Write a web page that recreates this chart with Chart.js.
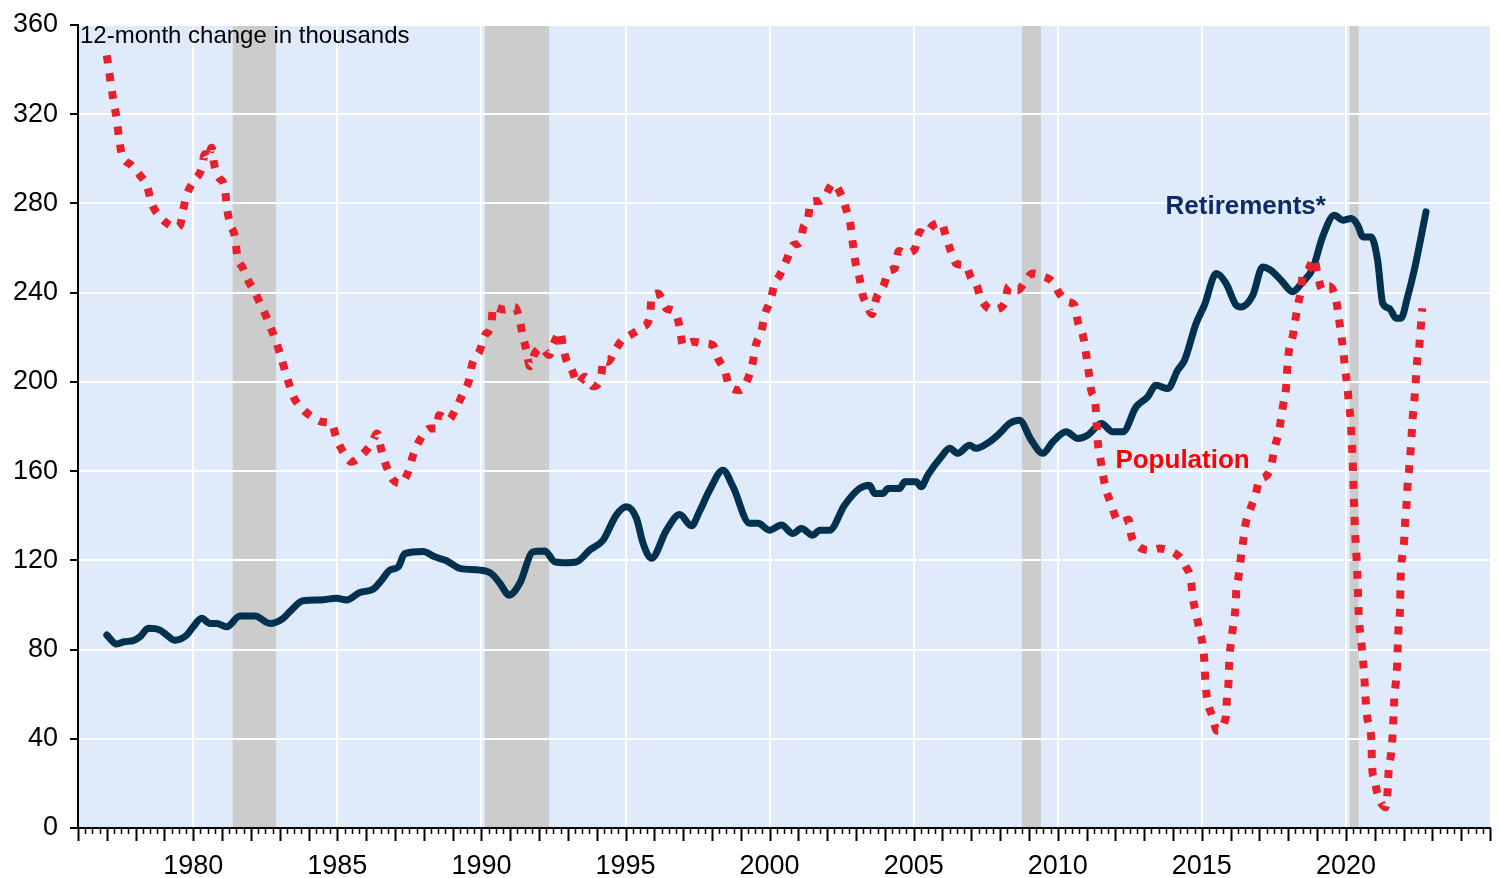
<!DOCTYPE html>
<html>
<head>
<meta charset="utf-8">
<script src="https://cdn.jsdelivr.net/npm/chart.js@4.4.1/dist/chart.umd.min.js"></script>
<style>
  html, body { margin: 0; padding: 0; background: #fff; }
  #myChart { display: block; }
</style>
</head>
<body>
<canvas id="myChart" width="1499" height="878"></canvas>
<script>
// Retirements* - 12-month change in thousands
const retireYears = [
  1977.0, 1977.34, 1977.6, 1977.92, 1978.15, 1978.44, 1978.84, 1979.08, 1979.36, 1979.77,
  1980.0, 1980.29, 1980.58, 1980.81, 1981.16, 1981.62, 1982.14, 1982.66, 1983.12, 1983.35,
  1983.81, 1984.4, 1984.97, 1985.32, 1985.78, 1986.24, 1986.53, 1986.82, 1987.11, 1987.34,
  1987.98, 1988.38, 1988.79, 1989.25, 1989.94, 1990.35, 1990.64, 1990.96, 1991.33, 1991.79,
  1992.2, 1992.55, 1992.95, 1993.3, 1993.76, 1994.22, 1994.68, 1995.03, 1995.38, 1995.61,
  1995.9, 1996.42, 1996.88, 1997.29, 1997.57, 1997.92, 1998.38, 1998.73, 1999.31, 1999.6,
  2000.0, 2000.41, 2000.81, 2001.1, 2001.5, 2001.74, 2002.08, 2002.6, 2003.12, 2003.47,
  2003.64, 2003.93, 2004.11, 2004.51, 2004.69, 2005.09, 2005.26, 2005.49, 2005.96, 2006.25,
  2006.53, 2006.94, 2007.17, 2007.63, 2007.98, 2008.33, 2008.67, 2009.08, 2009.48, 2009.83,
  2010.29, 2010.7, 2011.04, 2011.39, 2011.51, 2011.91, 2012.26, 2012.72, 2013.12, 2013.41,
  2013.82, 2014.16, 2014.4, 2014.8, 2015.09, 2015.5, 2015.84, 2016.19, 2016.36, 2016.77,
  2017.11, 2017.4, 2017.75, 2018.15, 2018.5, 2018.85, 2019.19, 2019.6, 2019.89, 2020.18,
  2020.41, 2020.59, 2020.87, 2021.1, 2021.28, 2021.51, 2021.74, 2021.91, 2022.14, 2022.37,
  2022.78
];
const retireValues = [
  86.5, 82.5, 83.5, 84, 85.7, 89.5, 88.7, 86.5, 84.2, 86.5,
  90.2, 94, 91.7, 91.7, 90.2, 95, 95, 91.7, 94, 97,
  101.9, 102.2, 103, 102.2, 105.6, 107, 111, 115.6, 117, 123,
  124, 121.6, 119.8, 116.4, 115.6, 114, 109.7, 104.4, 109.7, 123.8,
  124.2, 119.3, 118.9, 119.3, 124.6, 129, 140.3, 144, 138.8, 127.6,
  120.9, 133.5, 140.5, 135.5, 142, 151.5, 160.4, 153, 136.6, 136.6,
  133.5, 135.8, 132, 134.3, 131.3, 133.5, 133.5, 144.7, 152.2, 153.7,
  150, 150, 152.2, 152.2, 155.2, 155.2, 153, 158.2, 166.4, 170.2,
  168, 171.6, 170.2, 173.1, 176.9, 181.4, 182.8, 173.9, 168, 173.1,
  177.6, 174.6, 176.1, 180.5, 181.4, 177.6, 177.6, 188.8, 193.3, 198.5,
  197, 205.2, 209.7, 226.2, 234.4, 248.6, 244.2, 234.4, 233.6, 238.9,
  251.5, 250, 245.6, 240.4, 244.8, 250.8, 265, 274.7, 272.5, 273.2,
  270.2, 265, 265, 254.5, 235.1, 232.9, 228.5, 228.5, 238.1, 250,
  276.2
];

// Population - 12-month change in thousands
const popYears = [
  1977.0, 1977.09, 1977.17, 1977.25, 1977.34, 1977.42, 1977.52, 1977.83, 1978.15, 1978.4,
  1978.55, 1978.82, 1979.19, 1979.4, 1979.54, 1979.65, 1979.79, 1980.02, 1980.29, 1980.4,
  1980.5, 1980.64, 1980.72, 1980.87, 1981.1, 1981.16, 1981.27, 1981.45, 1981.53, 1981.71,
  1981.9, 1982.1, 1982.4, 1982.7, 1983.0, 1983.3, 1983.49, 1983.78, 1984.16, 1984.51,
  1984.8, 1984.97, 1985.2, 1985.49, 1985.78, 1986.19, 1986.38, 1986.53, 1986.71, 1986.94,
  1987.2, 1987.46, 1987.63, 1987.86, 1988.21, 1988.44, 1988.53, 1988.84, 1989.14, 1989.36,
  1989.57, 1989.68, 1989.94, 1990.12, 1990.35, 1990.4, 1990.78, 1991.16, 1991.33, 1991.43,
  1991.56, 1991.68, 1991.85, 1992.08, 1992.35, 1992.51, 1992.74, 1992.83, 1992.95, 1993.12,
  1993.35, 1993.59, 1993.87, 1994.16, 1994.22, 1994.39, 1994.63, 1994.89, 1995.15, 1995.61,
  1995.86, 1995.9, 1996.13, 1996.42, 1996.71, 1996.88, 1996.99, 1997.34, 1997.75, 1998.03,
  1998.21, 1998.44, 1998.61, 1998.96, 1999.25, 1999.42, 1999.52, 1999.71, 1999.83, 2000.03,
  2000.18, 2000.35, 2000.6, 2000.81, 2001.04, 2001.18, 2001.33, 2001.42, 2001.74, 2001.91,
  2002.2, 2002.49, 2002.66, 2002.81, 2002.89, 2002.99, 2003.12, 2003.22, 2003.39, 2003.55,
  2003.72, 2003.96, 2004.14, 2004.34, 2004.48, 2004.69, 2005.03, 2005.21, 2005.38, 2005.67,
  2005.96, 2006.13, 2006.3, 2006.48, 2006.82, 2007.0, 2007.17, 2007.35, 2007.75, 2008.15,
  2008.3, 2008.61, 2008.9, 2009.11, 2009.48, 2009.83, 2010.06, 2010.35, 2010.58, 2010.7,
  2010.89, 2010.99, 2011.08, 2011.16, 2011.31, 2011.35, 2011.39, 2011.47, 2011.56, 2011.68,
  2011.85, 2012.05, 2012.26, 2012.46, 2012.55, 2012.84, 2013.24, 2013.53, 2013.82, 2014.22,
  2014.45, 2014.63, 2014.68, 2014.8, 2014.92, 2015.03, 2015.09, 2015.12, 2015.18, 2015.35,
  2015.53, 2015.84, 2015.87, 2015.93, 2015.95, 2016.01, 2016.09, 2016.16, 2016.19, 2016.28,
  2016.36, 2016.44, 2016.51, 2016.67, 2016.86, 2017.0, 2017.17, 2017.4, 2017.52, 2017.66,
  2017.75, 2017.83, 2017.92, 2017.96, 2018.01, 2018.15, 2018.32, 2018.44, 2018.5, 2018.67,
  2018.9, 2019.02, 2019.19, 2019.42, 2019.65, 2019.75, 2019.83, 2019.91, 2019.97, 2020.05,
  2020.11, 2020.17, 2020.2, 2020.23, 2020.25, 2020.27, 2020.29, 2020.31, 2020.35, 2020.38,
  2020.41, 2020.43, 2020.46, 2020.52, 2020.58, 2020.63, 2020.67, 2020.71, 2020.81, 2020.89,
  2020.9, 2020.98, 2021.09, 2021.37, 2021.45, 2021.48, 2021.57, 2021.62, 2021.65, 2021.68,
  2021.74, 2021.78, 2021.8, 2021.83, 2021.88, 2021.89, 2021.91, 2021.97, 2022.03, 2022.06,
  2022.11, 2022.14, 2022.2, 2022.25, 2022.29, 2022.33, 2022.39, 2022.47, 2022.55, 2022.6,
  2022.65
];
const popValues = [
  346.4, 338.2, 331, 325, 318, 309.8, 302, 297.4, 292.6, 287.7,
  280.2, 274.4, 270.2, 269.2, 270.2, 277.2, 284.4, 290, 295.6, 302,
  300, 305, 298, 292, 286.6, 278.9, 271.3, 264.7, 256.3, 251.3,
  245.6, 241, 233, 224, 213, 200, 193, 188, 184, 182,
  181.4, 174.6, 168.6, 164.2, 166.4, 172.4, 176.9, 169.4, 161.9, 156,
  154.5, 159.7, 167.2, 173.9, 179.1, 179.1, 185, 182.8, 188.8, 194.8,
  200.8, 208, 213.9, 220.9, 226.2, 233.6, 232.4, 233.6, 227.7, 220.9,
  214.2, 207, 212.7, 215.4, 212, 217.2, 222.4, 216, 209.7, 206,
  199.3, 202.3, 198, 203, 209.7, 209, 213.9, 219, 220.9, 224.7,
  230.4, 238.1, 239.6, 232.9, 231.4, 224.5, 216.5, 218, 217.2, 216.5,
  210.5, 205.2, 198, 196.3, 201.5, 209, 216.5, 222.4, 229.9, 236.6,
  244.1, 247.8, 254.9, 261.3, 262.3, 269.5, 272.8, 280.7, 281.1, 282.9,
  288.9, 283.7, 277.3, 270.2, 262, 253, 246.7, 239.6, 234, 230.4,
  238.1, 243.3, 249.8, 250.8, 258.7, 257.8, 259.3, 267.2, 266.2, 270.2,
  271.4, 264.6, 258.3, 253, 251.9, 246.3, 243.8, 236.9, 232.4, 235.1,
  242.9, 241.1, 245.6, 248.6, 247.4, 244.8, 239.6, 235.9, 234.4, 226.9,
  219.9, 212, 203.8, 196.3, 189.6, 181.4, 173.1, 166.4, 159, 151.5,
  145.5, 138.3, 137.3, 138.3, 131.3, 125.8, 124.6, 125.3, 124.6, 121.6,
  117.1, 110.4, 103.7, 96.2, 88.7, 82, 74.5, 66.3, 58.1, 50.6,
  43.6, 50.2, 58.1, 66.3, 74.5, 82.8, 91, 97.7, 105.2, 113.4,
  121.6, 129.1, 135.8, 142.5, 149.2, 156, 157.2, 161.9, 170.2, 176.9,
  183.6, 190.3, 197, 205.2, 212.7, 220.2, 233.6, 241.1, 247.8, 250,
  255.3, 247.8, 241.1, 242.9, 237.3, 229.1, 221.7, 213.5, 206, 197.8,
  189.6, 182.1, 174, 166.4, 158.2, 150, 142, 134.3, 126.1, 117.9,
  109.5, 100.7, 92.4, 85, 77.1, 69.3, 61.1, 52.9, 45.4, 37.2,
  29, 22.3, 15.6, 9.3, 17, 25.2, 33.5, 41.7, 49.9, 58.1,
  66.3, 74, 82, 91, 99.2, 107.4, 115.6, 123.1, 130.5, 138.3,
  146.2, 153.7, 161.9, 170.2, 178.4, 185.8, 194, 209, 216.5, 224.7,
  233
];

// shaded periods (recessions)
const bandStarts = [1981.37, 1990.12, 2008.76, 2020.13];
const bandEnds   = [1982.87, 1992.35, 2009.42, 2020.44];

const tickYears = [1980, 1985, 1990, 1995, 2000, 2005, 2010, 2015, 2020];

const FONT = 'Liberation Sans, Arial, sans-serif';
Chart.defaults.font.family = FONT;
Chart.defaults.color = '#000';

const toPoints = (xs, ys) => xs.map((x, i) => ({ x: x, y: ys[i] }));

// background + shaded bands, drawn under the grid
const bandsPlugin = {
  id: 'bands',
  beforeDraw(chart) {
    const { ctx, chartArea: a, scales: { x } } = chart;
    ctx.save();
    ctx.fillStyle = '#dfeafb';
    ctx.fillRect(a.left, a.top, a.right - a.left, a.bottom - a.top);
    ctx.fillStyle = '#cccccc';
    bandStarts.forEach((s, i) => {
      const x0 = x.getPixelForValue(s);
      const x1 = x.getPixelForValue(bandEnds[i]);
      ctx.fillRect(x0, a.top, x1 - x0, a.bottom - a.top);
    });
    ctx.restore();
  }
};

// labels + quarterly tick marks on the x axis
const labelsPlugin = {
  id: 'labels',
  afterDraw(chart) {
    const { ctx, chartArea: a, scales: { x, y } } = chart;
    ctx.save();
    // tick marks: yearly long, quarterly short
    ctx.strokeStyle = '#000';
    for (let i = 0; i <= 196; i++) {
      const px = Math.round(x.getPixelForValue(1976 + i / 4)) + 0.5;
      const len = (i % 4 === 0) ? 13 : 6;
      ctx.lineWidth = (i % 4 === 0) ? 2 : 1.5;
      ctx.beginPath();
      ctx.moveTo(px, a.bottom);
      ctx.lineTo(px, a.bottom + len);
      ctx.stroke();
    }

    ctx.textBaseline = 'middle';
    ctx.textAlign = 'left';
    ctx.fillStyle = '#000';
    ctx.font = '24px ' + FONT;
    ctx.fillText('12-month change in thousands', a.left + 2, a.top + 11);

    ctx.fillStyle = '#0f2a66';
    ctx.font = 'bold 26px ' + FONT;
    ctx.fillText('Retirements*', x.getPixelForValue(2013.74), y.getPixelForValue(278.3));

    ctx.fillStyle = '#ff0000';
    ctx.font = 'bold 26px ' + FONT;
    ctx.fillText('Population', x.getPixelForValue(2012.0), y.getPixelForValue(164.5));
    ctx.restore();
  }
};

const ctx = document.getElementById('myChart');

new Chart(ctx, {
  type: 'line',
  data: {
    datasets: [
      {
        label: 'Population',
        data: toPoints(popYears, popValues),
        borderColor: '#e8202b',
        borderWidth: 8,
        borderDash: [8, 10],
        borderCapStyle: 'butt',
        pointRadius: 0,
        fill: false,
        cubicInterpolationMode: 'monotone'
      },
      {
        label: 'Retirements*',
        data: toPoints(retireYears, retireValues),
        borderColor: '#00324f',
        borderWidth: 7,
        borderJoinStyle: 'round',
        borderCapStyle: 'round',
        pointRadius: 0,
        fill: false,
        cubicInterpolationMode: 'monotone'
      }
    ]
  },
  options: {
    responsive: false,
    animation: false,
    layout: { padding: { top: 25, right: 9, left: 0, bottom: 0 } },
    plugins: {
      legend: { display: false },
      tooltip: { enabled: false }
    },
    scales: {
      x: {
        type: 'linear',
        min: 1976,
        max: 2025,
        afterBuildTicks: (scale) => {
          scale.ticks = tickYears.map(v => ({ value: v }));
        },
        afterFit: (scale) => {
          scale.height = 50;
          scale.paddingLeft = 0;
          scale.paddingRight = 0;
        },
        ticks: {
          callback: (v) => String(v),
          font: { size: 27 },
          color: '#000',
          maxRotation: 0,
          autoSkip: false,
          padding: 22
        },
        grid: { color: '#ffffff', lineWidth: 2, drawTicks: false },
        border: { color: '#000', width: 2 }
      },
      y: {
        min: 0,
        max: 360,
        afterFit: (scale) => {
          scale.width = 78;
          scale.paddingTop = 0;
          scale.paddingBottom = 0;
        },
        ticks: {
          stepSize: 40,
          font: { size: 27 },
          color: '#000',
          padding: 12
        },
        grid: { color: '#ffffff', lineWidth: 2, tickColor: '#000', tickLength: 8, tickWidth: 2 },
        border: { color: '#000', width: 2 }
      }
    }
  },
  plugins: [bandsPlugin, labelsPlugin]
});
</script>
</body>
</html>
